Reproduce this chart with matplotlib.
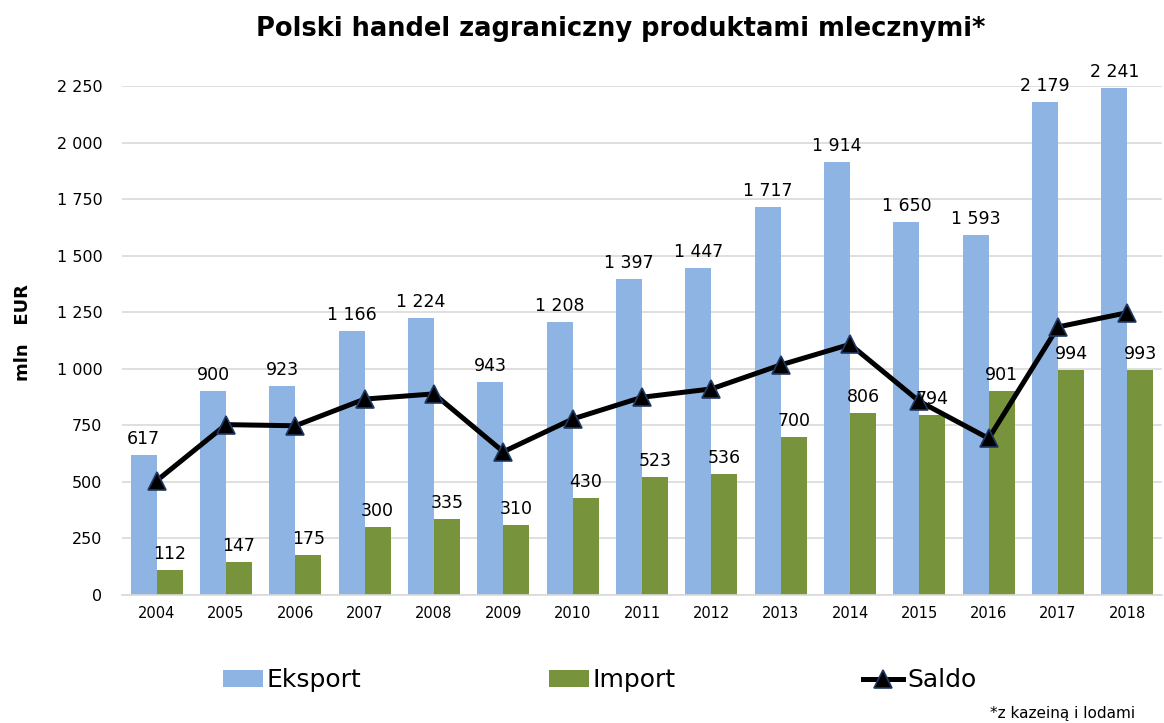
import matplotlib
matplotlib.use("Agg")
import matplotlib.pyplot as plt
import numpy as np
from matplotlib.ticker import FuncFormatter

years = ["2004", "2005", "2006", "2007", "2008", "2009", "2010", "2011",
         "2012", "2013", "2014", "2015", "2016", "2017", "2018"]
eksport = [617, 900, 923, 1166, 1224, 943, 1208, 1397, 1447, 1717, 1914, 1650, 1593, 2179, 2241]
import_ = [112, 147, 175, 300, 335, 310, 430, 523, 536, 700, 806, 794, 901, 994, 993]
saldo = [e - i for e, i in zip(eksport, import_)]   # export minus import


def spaced(v):
    """Formats numbers with a space as thousands separator"""
    return f"{int(round(v)):,}".replace(",", " ")


fig = plt.figure(figsize=(11.64, 7.23), dpi=100)
ax = fig.add_axes([0.1048, 0.1771, 0.8935, 0.7039])

x = np.arange(len(years))
w = 0.375
c_eks = "#8EB4E3"
c_imp = "#77933C"

b1 = ax.bar(x - w / 2, eksport, w, color=c_eks, label="Eksport", zorder=2)
b2 = ax.bar(x + w / 2, import_, w, color=c_imp, label="Import", zorder=2)
ln, = ax.plot(x, saldo, color="black", lw=3.6, marker="^", ms=13,
              mfc="black", mec="#1F3864", mew=1.2, label="Saldo", zorder=4)

# value labels over the bars
for xi, v in zip(x - w / 2, eksport):
    ax.annotate(spaced(v), (xi, v), xytext=(0, 5), textcoords="offset points",
                ha="center", va="bottom", fontsize=12.5, zorder=5)
for xi, v in zip(x + w / 2, import_):
    ax.annotate(spaced(v), (xi, v), xytext=(0, 5), textcoords="offset points",
                ha="center", va="bottom", fontsize=12.5, zorder=5)

ax.set_xlim(-0.5, len(years) - 0.5)
ax.set_ylim(0, 2250)
ax.set_yticks(np.arange(0, 2251, 250))
ax.yaxis.set_major_formatter(FuncFormatter(lambda v, p: spaced(v)))
ax.set_xticks(x, years)
ax.tick_params(axis="y", labelsize=11.5, length=0, pad=14)
ax.tick_params(axis="x", labelsize=10.5, length=0, pad=8)
ax.grid(axis="y", color="#D9D9D9", lw=1.2, zorder=0)
for s in ["top", "right", "left"]:
    ax.spines[s].set_visible(False)
ax.spines["bottom"].set_color("#D9D9D9")
ax.spines["bottom"].set_linewidth(1.2)

fig.text(0.02, 0.54, "mln   EUR", rotation=90, ha="center", va="center",
         fontsize=13, fontweight="bold")
fig.text(0.533, 0.96, "Polski handel zagraniczny produktami mlecznymi*",
         ha="center", va="center", fontsize=18.5, fontweight="bold")

fig.legend(handles=[b1, b2, ln], loc="center", bbox_to_anchor=(0.515, 0.059),
           ncol=3, frameon=False, columnspacing=7.5, handlelength=1.6,
           handletextpad=0.15, prop={"family": ["Liberation Sans Narrow", "DejaVu Sans"], "size": 18})
fig.text(0.975, 0.013, "*z kazeiną i lodami", ha="right", va="center",
         fontsize=11, family=["Liberation Sans Narrow", "DejaVu Sans"])

fig.savefig("out.png", dpi=100)
